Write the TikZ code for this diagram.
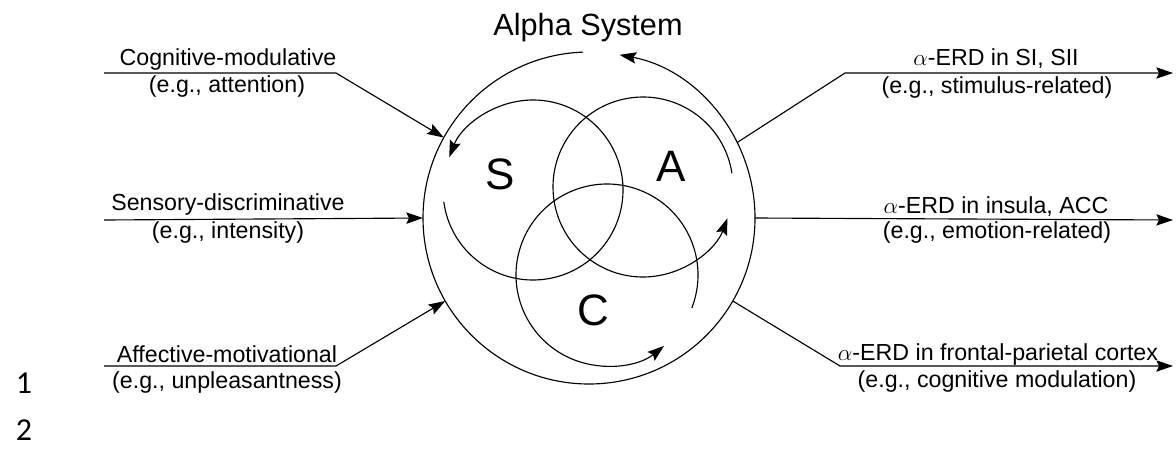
\documentclass[tikz,border=0pt]{standalone}
\usepackage{fontspec}
\setmainfont{Liberation Sans}
\newfontfamily\linenumfont{Carlito}
\usetikzlibrary{arrows.meta}
\begin{document}
\begin{tikzpicture}[x=0.75pt, y=0.75pt, line width=0.85pt,
  tip/.style={-{Stealth[length=12.5pt, width=8.5pt, inset=2pt]}},
  lbl/.style={font=\fontsize{17.4}{20}\selectfont, inner sep=0pt},
  big/.style={font=\fontsize{33}{36}\selectfont, inner sep=0pt},
  ttl/.style={font=\fontsize{23}{26}\selectfont, inner sep=0pt},
  lnum/.style={font=\linenumfont\fontsize{24}{28}\selectfont, inner sep=0pt}]
\useasboundingbox (0,0) rectangle (1176,-450);

% outer system circle (its outline is drawn as a circular arrow)
\node[circle, minimum size=249pt, inner sep=0pt, outer sep=0pt] (sys) at (589,-218) {};
\draw[tip] (sys.92) arc[start angle=92, end angle=439.4, radius=166];

% the three overlapping cycles
\coordinate (cS) at (533,-190);
\coordinate (cA) at (643,-187);
\coordinate (cC) at (607,-275);
\draw[tip] (cS) ++(187.6:90) arc[start angle=187.6, end angle=518.6, radius=90];
\draw[tip] (cA) ++(8.8:90) arc[start angle=8.8, end angle=339.7, radius=90];
\draw[tip] (cC) ++(-21.2:91) arc[start angle=-21.2, end angle=308.8, radius=91];

\node[big] (S) at (500,-174) {S};
\node[big] (A) at (671,-166) {A};
\node[big] (C) at (593,-310) {C};
\node[ttl] (title) at (588,-28) {Alpha System};

% inputs
\node[lbl] (cog)   at (228,-59)  {Cognitive-modulative};
\node[lbl] (cogx)  at (227,-86)  {(e.g., attention)};
\node[lbl] (sen)   at (228,-204) {Sensory-discriminative};
\node[lbl] (senx)  at (228,-232) {(e.g., intensity)};
\node[lbl] (aff)   at (227,-354) {Affective-motivational};
\node[lbl] (affx)  at (227,-382) {(e.g., unpleasantness)};

\coordinate (cogL) at (104,-73);
\coordinate (cogK) at (336,-73);
\coordinate (senL) at (104,-220);
\coordinate (affL) at (104,-366);
\coordinate (affK) at (336,-366);
\draw[tip] (cogL) -- (cogK) -- (sys.151.9);
\draw[tip] (senL) -- (sys.180);
\draw[tip] (affL) -- (affK) -- (sys.210.3);

% outputs
\node[lbl] (si)    at (996,-59)  {$\alpha$-ERD in SI, SII};
\node[lbl] (six)   at (997,-87)  {(e.g., stimulus-related)};
\node[lbl] (ins)   at (996,-207) {$\alpha$-ERD in insula, ACC};
\node[lbl] (insx)  at (997,-232) {(e.g., emotion-related)};
\node[lbl] (fp)    at (998,-354) {$\alpha$-ERD in frontal-parietal cortex};
\node[lbl] (fpx)   at (997,-381) {(e.g., cognitive modulation)};

\coordinate (siK) at (845,-73);
\coordinate (siR) at (1173,-73);
\coordinate (insR) at (1173,-220);
\coordinate (fpK) at (840,-366);
\coordinate (fpR) at (1173,-366);
\draw[tip] (sys.27.8) -- (siK) -- (siR);
\draw[tip] (sys.0) -- (insR);
\draw[tip] (sys.-30.7) -- (fpK) -- (fpR);

% line numbers
\node[lnum] (n1) at (24,-383) {1};
\node[lnum] (n2) at (24,-430) {2};
\end{tikzpicture}
\end{document}
